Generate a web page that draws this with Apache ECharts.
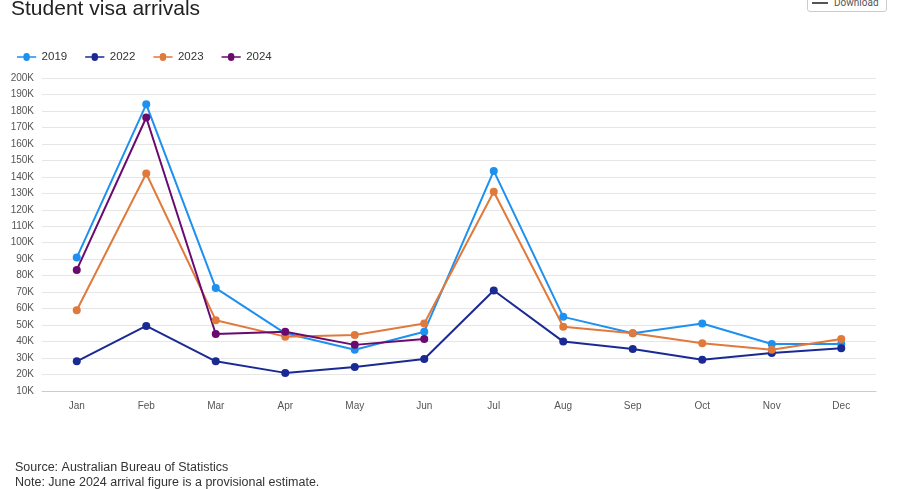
<!DOCTYPE html>
<html lang="en">
<head>
<meta charset="UTF-8">
<title>Student visa arrivals</title>
<script src="https://cdn.jsdelivr.net/npm/echarts@6/dist/echarts.min.js"></script>
<style>
  body { margin: 0; background: #fff; font-family: Roboto, "Noto Sans", sans-serif; }
  #chart { width: 897px; height: 489px; }
  .btn { position: absolute; left: 807px; top: -6px; width: 76px; height: 16px; border: 1px solid #ccc; border-radius: 3px;
         font-size: 10px; color: #555; line-height: 16px; padding-left: 2px; background: #fff; }
  .btn span { display: inline-block; width: 16px; height: 2px; background: #555; box-shadow: 0 -4px 0 #555; vertical-align: middle; margin: 0 6px 0 2px; }
</style>
</head>
<body>
<div id="chart"></div>
<div class="btn"><span></span>Download</div>
<script>
var months = ['Jan', 'Feb', 'Mar', 'Apr', 'May', 'Jun', 'Jul', 'Aug', 'Sep', 'Oct', 'Nov', 'Dec'];
var y2019 = [91000, 184000, 72500, 45000, 35000, 46000, 143600, 55000, 45000, 51000, 38500, 38500];
var y2022 = [28000, 49500, 28000, 21000, 24600, 29400, 71000, 40000, 35500, 29000, 33000, 36000];
var y2023 = [59000, 142000, 53000, 43000, 44000, 51000, 131000, 49000, 45000, 39000, 35000, 41600];
var y2024 = [83500, 176000, 44600, 46000, 38000, 41600];

var chart = echarts.init(document.getElementById('chart'));

function line(name, data, color) {
    return {
        name: name, type: 'line', data: data,
        symbol: 'circle', symbolSize: 8,
        lineStyle: { width: 2, color: color },
        itemStyle: { color: color }
    };
}

chart.setOption({
    animation: false,
    title: [{
        text: 'Student visa arrivals', left: 6, top: -6,
        textStyle: { fontSize: 21, fontWeight: 'normal', color: '#222' }
    }, {
        text: 'Source: Australian Bureau of Statistics\nNote: June 2024 arrival figure is a provisional estimate.',
        left: 10, top: 455,
        textStyle: { fontSize: 12.5, fontWeight: 'normal', color: '#333', lineHeight: 15 }
    }],
    legend: {
        left: 12, top: 46, itemWidth: 20, itemHeight: 8, itemGap: 18,
        icon: 'path://M0,3H8A4,4,0,1,1,16,3H24V5H16A4,4,0,1,1,8,5H0Z',
        textStyle: { fontSize: 11.5, color: '#333' }
    },
    grid: { left: 42, right: 21, top: 78, bottom: 98 },
    xAxis: {
        type: 'category', data: months, boundaryGap: true,
        axisLine: { lineStyle: { color: '#ccc' } },
        axisTick: { show: false },
        axisLabel: { color: '#555', fontSize: 10, margin: 10 }
    },
    yAxis: {
        type: 'value', min: 10000, max: 200000, interval: 10000,
        axisLabel: { color: '#555', fontSize: 10, formatter: function (v) { return v / 1000 + 'K'; } },
        splitLine: { lineStyle: { color: '#e6e6e6' } },
        axisLine: { show: false }
    },
    series: [
        line('2019', y2019, '#1e90ef'),
        line('2022', y2022, '#1a2a94'),
        line('2023', y2023, '#e07a3c'),
        line('2024', y2024, '#6a0a6e')
    ]
});
</script>
</body>
</html>
